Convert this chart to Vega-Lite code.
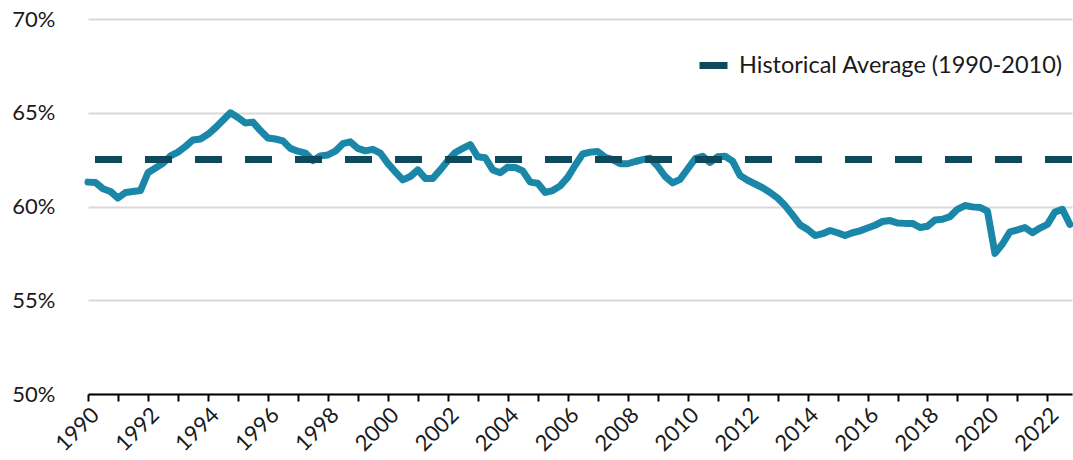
{
  "$schema": "https://vega.github.io/schema/vega-lite/v6.json",
  "width": 984,
  "height": 375,
  "autosize": "none",
  "padding": {"left": 88, "top": 19, "right": 1, "bottom": 66},
  "background": "white",
  "config": {
    "view": {"stroke": null},
    "font": "Lato",
    "axis": {"labelFont": "Lato", "labelColor": "#1a1a1a", "labelFontSize": 22}
  },
  "data": {"values": [
    {"year": 1990.00, "rate": 61.3}, {"year": 1990.25, "rate": 61.28}, {"year": 1990.50, "rate": 60.95}, {"year": 1990.75, "rate": 60.8},
    {"year": 1991.00, "rate": 60.45}, {"year": 1991.25, "rate": 60.75}, {"year": 1991.50, "rate": 60.8}, {"year": 1991.75, "rate": 60.85},
    {"year": 1992.00, "rate": 61.8}, {"year": 1992.25, "rate": 62.05}, {"year": 1992.50, "rate": 62.3}, {"year": 1992.75, "rate": 62.7},
    {"year": 1993.00, "rate": 62.9}, {"year": 1993.25, "rate": 63.2}, {"year": 1993.50, "rate": 63.55}, {"year": 1993.75, "rate": 63.6},
    {"year": 1994.00, "rate": 63.85}, {"year": 1994.25, "rate": 64.2}, {"year": 1994.50, "rate": 64.6}, {"year": 1994.75, "rate": 65.0},
    {"year": 1995.00, "rate": 64.75}, {"year": 1995.25, "rate": 64.45}, {"year": 1995.50, "rate": 64.5}, {"year": 1995.75, "rate": 64.05},
    {"year": 1996.00, "rate": 63.65}, {"year": 1996.25, "rate": 63.6}, {"year": 1996.50, "rate": 63.5}, {"year": 1996.75, "rate": 63.1},
    {"year": 1997.00, "rate": 62.95}, {"year": 1997.25, "rate": 62.85}, {"year": 1997.50, "rate": 62.45}, {"year": 1997.75, "rate": 62.7},
    {"year": 1998.00, "rate": 62.75}, {"year": 1998.25, "rate": 62.95}, {"year": 1998.50, "rate": 63.35}, {"year": 1998.75, "rate": 63.45},
    {"year": 1999.00, "rate": 63.1}, {"year": 1999.25, "rate": 62.97}, {"year": 1999.50, "rate": 63.05}, {"year": 1999.75, "rate": 62.85},
    {"year": 2000.00, "rate": 62.3}, {"year": 2000.25, "rate": 61.85}, {"year": 2000.50, "rate": 61.42}, {"year": 2000.75, "rate": 61.6},
    {"year": 2001.00, "rate": 61.95}, {"year": 2001.25, "rate": 61.5}, {"year": 2001.50, "rate": 61.5}, {"year": 2001.75, "rate": 61.95},
    {"year": 2002.00, "rate": 62.45}, {"year": 2002.25, "rate": 62.88}, {"year": 2002.50, "rate": 63.1}, {"year": 2002.75, "rate": 63.3},
    {"year": 2003.00, "rate": 62.65}, {"year": 2003.25, "rate": 62.6}, {"year": 2003.50, "rate": 61.95}, {"year": 2003.75, "rate": 61.8},
    {"year": 2004.00, "rate": 62.1}, {"year": 2004.25, "rate": 62.08}, {"year": 2004.50, "rate": 61.9}, {"year": 2004.75, "rate": 61.3},
    {"year": 2005.00, "rate": 61.24}, {"year": 2005.25, "rate": 60.75}, {"year": 2005.50, "rate": 60.85}, {"year": 2005.75, "rate": 61.1},
    {"year": 2006.00, "rate": 61.55}, {"year": 2006.25, "rate": 62.2}, {"year": 2006.50, "rate": 62.8}, {"year": 2006.75, "rate": 62.9},
    {"year": 2007.00, "rate": 62.93}, {"year": 2007.25, "rate": 62.62}, {"year": 2007.50, "rate": 62.5}, {"year": 2007.75, "rate": 62.28},
    {"year": 2008.00, "rate": 62.28}, {"year": 2008.25, "rate": 62.4}, {"year": 2008.50, "rate": 62.5}, {"year": 2008.75, "rate": 62.57},
    {"year": 2009.00, "rate": 62.15}, {"year": 2009.25, "rate": 61.6}, {"year": 2009.50, "rate": 61.26}, {"year": 2009.75, "rate": 61.45},
    {"year": 2010.00, "rate": 62.0}, {"year": 2010.25, "rate": 62.55}, {"year": 2010.50, "rate": 62.68}, {"year": 2010.75, "rate": 62.35},
    {"year": 2011.00, "rate": 62.65}, {"year": 2011.25, "rate": 62.68}, {"year": 2011.50, "rate": 62.42}, {"year": 2011.75, "rate": 61.65},
    {"year": 2012.00, "rate": 61.4}, {"year": 2012.25, "rate": 61.2}, {"year": 2012.50, "rate": 61.0}, {"year": 2012.75, "rate": 60.75},
    {"year": 2013.00, "rate": 60.45}, {"year": 2013.25, "rate": 60.05}, {"year": 2013.50, "rate": 59.55}, {"year": 2013.75, "rate": 59.02},
    {"year": 2014.00, "rate": 58.78}, {"year": 2014.25, "rate": 58.45}, {"year": 2014.50, "rate": 58.55}, {"year": 2014.75, "rate": 58.72},
    {"year": 2015.00, "rate": 58.6}, {"year": 2015.25, "rate": 58.45}, {"year": 2015.50, "rate": 58.6}, {"year": 2015.75, "rate": 58.7},
    {"year": 2016.00, "rate": 58.85}, {"year": 2016.25, "rate": 59.0}, {"year": 2016.50, "rate": 59.2}, {"year": 2016.75, "rate": 59.25},
    {"year": 2017.00, "rate": 59.12}, {"year": 2017.25, "rate": 59.1}, {"year": 2017.50, "rate": 59.1}, {"year": 2017.75, "rate": 58.88},
    {"year": 2018.00, "rate": 58.95}, {"year": 2018.25, "rate": 59.28}, {"year": 2018.50, "rate": 59.32}, {"year": 2018.75, "rate": 59.46},
    {"year": 2019.00, "rate": 59.85}, {"year": 2019.25, "rate": 60.05}, {"year": 2019.50, "rate": 59.98}, {"year": 2019.75, "rate": 59.95},
    {"year": 2020.00, "rate": 59.75}, {"year": 2020.25, "rate": 57.5}, {"year": 2020.50, "rate": 58.0}, {"year": 2020.75, "rate": 58.65},
    {"year": 2021.00, "rate": 58.75}, {"year": 2021.25, "rate": 58.88}, {"year": 2021.50, "rate": 58.6}, {"year": 2021.75, "rate": 58.85},
    {"year": 2022.00, "rate": 59.05}, {"year": 2022.25, "rate": 59.7}, {"year": 2022.50, "rate": 59.85}, {"year": 2022.75, "rate": 59.05}
  ]},
  "layer": [
    {
      "mark": {"type": "line", "color": "#1a87a8", "strokeWidth": 7, "strokeJoin": "round", "strokeCap": "round"},
      "encoding": {
        "x": {
          "field": "year", "type": "quantitative",
          "scale": {"domain": [1990, 2022.82], "nice": false, "zero": false},
          "axis": {
            "title": null, "grid": false,
            "values": [1990,1991,1992,1993,1994,1995,1996,1997,1998,1999,2000,2001,2002,2003,2004,2005,2006,2007,2008,2009,2010,2011,2012,2013,2014,2015,2016,2017,2018,2019,2020,2021,2022],
            "labelExpr": "datum.value % 2 == 0 ? format(datum.value, 'd') : ''",
            "labelAngle": -45,
            "labelOverlap": false,
            "labelPadding": 3,
            "domainColor": "#000000", "domainWidth": 2,
            "tickColor": "#000000", "tickWidth": 2, "tickSize": 7
          }
        },
        "y": {
          "field": "rate", "type": "quantitative",
          "scale": {"domain": [50, 70], "nice": false, "zero": false},
          "axis": {
            "title": null,
            "values": [50, 55, 60, 65, 70],
            "labelExpr": "datum.value + '%'",
            "domain": false, "ticks": false,
            "labelPadding": 33,
            "gridColor": "#d9d9d9", "gridWidth": 2
          }
        }
      }
    },
    {
      "mark": {"type": "rule", "strokeWidth": 6, "strokeDash": [27, 23]},
      "encoding": {
        "y": {"datum": 62.5},
        "color": {
          "datum": "Historical Average (1990-2010)",
          "scale": {"range": ["#0f4a5c"]},
          "legend": {
            "title": null,
            "orient": "none",
            "legendX": 608,
            "legendY": 29,
            "symbolType": "stroke",
            "symbolSize": 784,
            "symbolStrokeWidth": 7,
            "symbolDash": [],
            "labelFont": "Lato",
            "labelFontSize": 23.5,
            "labelColor": "#1a1a1a",
            "labelOffset": 8,
            "labelLimit": 500
          }
        }
      }
    }
  ]
}
